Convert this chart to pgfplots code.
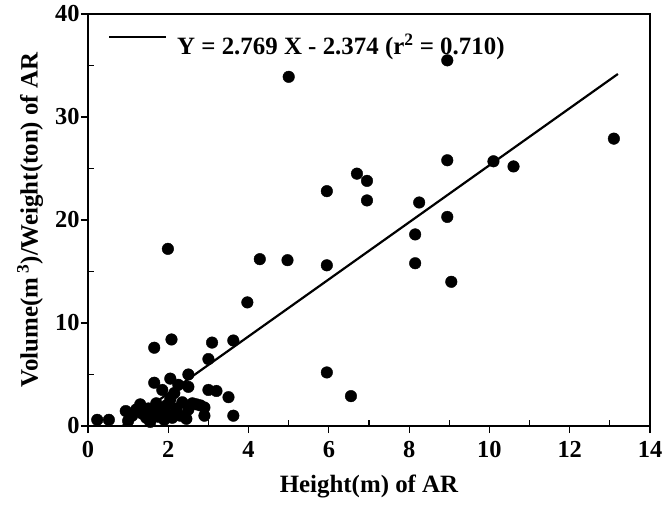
\documentclass[border=0pt]{standalone}
\usepackage{fontspec}
\setmainfont{Liberation Serif}
\usepackage{pgfplots}
\pgfplotsset{compat=1.18}
\begin{document}
\begin{tikzpicture}[x=1bp,y=1bp]
\begin{axis}[
  scale only axis,
  width=562bp, height=412bp,
  xmin=0, xmax=14, ymin=0, ymax=40,
  xtick={0,2,...,14}, ytick={0,10,...,40},
  tick pos=left,
  tick align=outside,
  major tick length=7bp,
  extra x ticks={1,3,5,7,9,11,13},
  extra x tick labels={},
  extra y ticks={5,15,25,35},
  extra y tick labels={},
  extra tick style={tick align=inside, major tick length=6bp},
  axis line style={line width=1.4bp},
  every tick/.style={line width=1.2bp, black},
  /pgf/number format/assume math mode=true,
  tick label style={font=\fontsize{24.5}{28}\selectfont\bfseries},
  xticklabel style={yshift=-5bp},
  yticklabel style={xshift=2bp},
  xlabel={Height(m) of AR},
  ylabel={Volume(m\,\textsuperscript{3})/Weight(ton) of AR},
  label style={font=\fontsize{25}{28}\selectfont\bfseries},
  xlabel style={yshift=-3bp},
  ylabel style={yshift=-2bp},
  legend style={at={(0.03,0.962)}, anchor=north west, draw=none, fill=none,
    font=\fontsize{25}{28}\selectfont\bfseries},
  legend cell align=left,
  legend image code/.code={\draw[line width=2.2bp] (0bp,8bp) -- (57bp,8bp);
    \path[draw=none] (0bp,-8bp) -- (66bp,-8bp);},
]
\addplot[only marks, mark=*, mark size=5.8bp, black, forget plot] coordinates {
(5,33.9) (8.95,35.5) (13.1,27.9) (10.1,25.7) (10.6,25.2) (8.95,25.8) (8.95,20.3)
(9.05,14) (8.25,21.7) (8.15,18.6) (8.15,15.8) (6.7,24.5) (6.95,23.8) (6.95,21.9)
(5.95,22.8) (5.95,15.6) (5.95,5.2) (6.55,2.9) (4.97,16.1) (4.28,16.2) (3.97,12)
(3.62,8.3) (3.09,8.1) (3.0,6.5) (1.99,17.2) (1.65,7.6) (2.08,8.4)
(0.23,0.6) (0.52,0.6) (0.94,1.45) (1.0,0.5) (1.1,1.0) (1.2,1.6) (1.3,2.1)
(1.35,1.2) (1.45,0.8) (1.5,1.7) (1.55,0.4) (1.6,1.2) (1.65,4.2) (1.7,2.2)
(1.75,0.9) (1.8,1.6) (1.85,3.5) (1.9,0.6) (1.95,2.0) (2.0,1.1) (2.05,4.6)
(2.05,2.6) (2.1,0.8) (2.15,3.2) (2.2,1.7) (2.25,4.0) (2.3,1.0) (2.35,2.3)
(2.45,0.7) (2.5,5.0) (2.5,3.8) (2.5,1.6) (2.6,2.2) (2.7,2.1) (2.8,2.0)
(2.9,1.8) (2.9,1.0) (3.0,3.5) (3.2,3.4) (3.5,2.8) (3.62,1.0)
};
\addplot[black, line width=2.2bp] coordinates {(0.857,0) (13.2,34.177)};
\addlegendentry{Y = 2.769 X - 2.374 (r\textsuperscript{2} = 0.710)}
\coordinate (O) at (rel axis cs:0,0);
\end{axis}
\path[use as bounding box] ([shift={(-88bp,-83bp)}]O) rectangle ++(669bp,509bp);
\end{tikzpicture}
\end{document}
